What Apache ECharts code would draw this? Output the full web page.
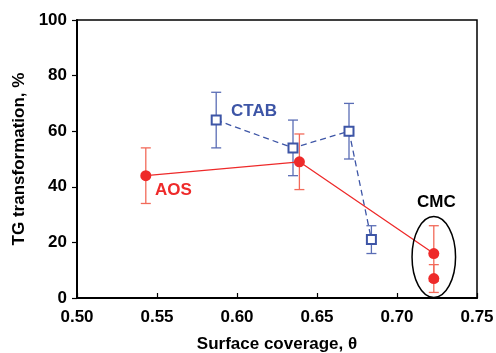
<!DOCTYPE html>
<html><head><meta charset="utf-8">
<script src="https://cdn.jsdelivr.net/npm/echarts@6/dist/echarts.min.js"></script>
<style>html,body{margin:0;padding:0;background:#fff}#c{width:496px;height:353px}</style>
</head><body><div id="c"></div>
<script>
// AOS series (connected)
const aosX = [0.543, 0.639, 0.723];
const aosY = [44, 49, 16];
const aosErr = [10, 10, 10];
// CMC extra point (not connected)
const cmcX = [0.723];
const cmcY = [7];
const cmcErr = [5];
// CTAB series
const ctabX = [0.587, 0.635, 0.670, 0.684];
const ctabY = [64, 54, 60, 21];
const ctabErr = [10, 10, 10, 5];
const xTicks = [0.50, 0.55, 0.60, 0.65, 0.70, 0.75];
const yTicks = [0, 20, 40, 60, 80, 100];
// CMC ellipse extent (data units)
const cmcEllipse = { yTop: 29.3, yBottom: 0.2, halfWidth: 0.0136 };

const RED = '#ee2a2a', RED_ERR = '#f26a5a', BLUE = '#3d55a6', BLUE_ERR = '#5a6db5';
const FONT = 'Liberation Sans, Arial, sans-serif';

function zip(xs, ys) { return xs.map((x, i) => [x, ys[i]]); }
function zipE(xs, ys, es) { return xs.map((x, i) => [x, ys[i], es[i]]); }

function errSeries(data, color) {
  return {
    type: 'custom', z: 1, silent: true,
    data: data,
    renderItem: function (params, api) {
      const x = api.value(0), y = api.value(1), e = api.value(2);
      const top = api.coord([x, y + e]);
      const bot = api.coord([x, y - e]);
      const w = 5;
      const st = { stroke: color, lineWidth: 1.3 };
      return { type: 'group', children: [
        { type: 'line', shape: { x1: top[0], y1: top[1], x2: bot[0], y2: bot[1] }, style: st },
        { type: 'line', shape: { x1: top[0] - w, y1: top[1], x2: top[0] + w, y2: top[1] }, style: st },
        { type: 'line', shape: { x1: bot[0] - w, y1: bot[1], x2: bot[0] + w, y2: bot[1] }, style: st }
      ]};
    }
  };
}

const chart = echarts.init(document.getElementById('c'));
const option = {
  animation: false,
  backgroundColor: '#fff',
  grid: { left: 77, right: 19, top: 20, bottom: 55, containLabel: false, outerBoundsMode: 'none',
    show: true, borderColor: '#000', borderWidth: 1.5, backgroundColor: 'transparent' },
  xAxis: {
    type: 'value', min: 0.50, max: 0.75, interval: 0.05,
    name: 'Surface coverage, \u03b8', nameLocation: 'middle', nameGap: 38,
    nameTextStyle: { fontFamily: FONT, fontWeight: 'bold', fontSize: 17, color: '#000' },
    axisLine: { lineStyle: { color: '#000', width: 2 } },
    axisTick: { inside: true, length: 5, lineStyle: { color: '#000', width: 1.2 } },
    axisLabel: { fontFamily: FONT, fontWeight: 'bold', fontSize: 17, color: '#000', margin: 11,
      formatter: v => v.toFixed(2) },
    splitLine: { show: false }
  },
  yAxis: {
    type: 'value', min: 0, max: 100, interval: 20,
    name: 'TG transformation, %', nameLocation: 'middle', nameGap: 48, nameRotate: 90,
    nameTextStyle: { fontFamily: FONT, fontWeight: 'bold', fontSize: 17, color: '#000' },
    axisLine: { lineStyle: { color: '#000', width: 2 } },
    axisTick: { inside: false, length: 5, lineStyle: { color: '#000', width: 1.2 } },
    axisLabel: { fontFamily: FONT, fontWeight: 'bold', fontSize: 17, color: '#000', margin: 10 },
    splitLine: { show: false }
  },
  series: [
    errSeries(zipE(ctabX, ctabY, ctabErr), BLUE_ERR),
    errSeries(zipE(aosX, aosY, aosErr), RED_ERR),
    errSeries(zipE(cmcX, cmcY, cmcErr), RED_ERR),
    { type: 'line', z: 3, data: zip(ctabX, ctabY), symbol: 'rect', symbolSize: 9,
      lineStyle: { color: BLUE, width: 1.3, type: [6, 4] },
      itemStyle: { color: '#fff', borderColor: BLUE, borderWidth: 2 } },
    { type: 'line', z: 4, data: zip(aosX, aosY), symbol: 'circle', symbolSize: 11,
      lineStyle: { color: RED, width: 1.3 }, itemStyle: { color: RED, borderWidth: 0, opacity: 1 } },
    { type: 'scatter', z: 4, data: zip(cmcX, cmcY), symbol: 'circle', symbolSize: 11,
      itemStyle: { color: RED, borderWidth: 0, opacity: 1 } }
  ]
};
chart.setOption(option);

// annotations
const eTop = chart.convertToPixel({ gridIndex: 0 }, [cmcX[0] - cmcEllipse.halfWidth, cmcEllipse.yTop]);
const eBot = chart.convertToPixel({ gridIndex: 0 }, [cmcX[0] + cmcEllipse.halfWidth, cmcEllipse.yBottom]);
chart.setOption({
  graphic: [
    { type: 'ellipse', z: 10, shape: { cx: (eTop[0] + eBot[0]) / 2, cy: (eTop[1] + eBot[1]) / 2,
        rx: (eBot[0] - eTop[0]) / 2, ry: (eBot[1] - eTop[1]) / 2 },
      style: { fill: 'none', stroke: '#000', lineWidth: 1.5 } },
    { type: 'text', z: 10, left: 231, top: 103, style: { text: 'CTAB', fill: BLUE, font: 'bold 17px ' + FONT } },
    { type: 'text', z: 10, left: 155, top: 182, style: { text: 'AOS', fill: RED, font: 'bold 17px ' + FONT } },
    { type: 'text', z: 10, left: 417, top: 194, style: { text: 'CMC', fill: '#000', font: 'bold 17px ' + FONT } }
  ]
});
</script>
</body></html>
